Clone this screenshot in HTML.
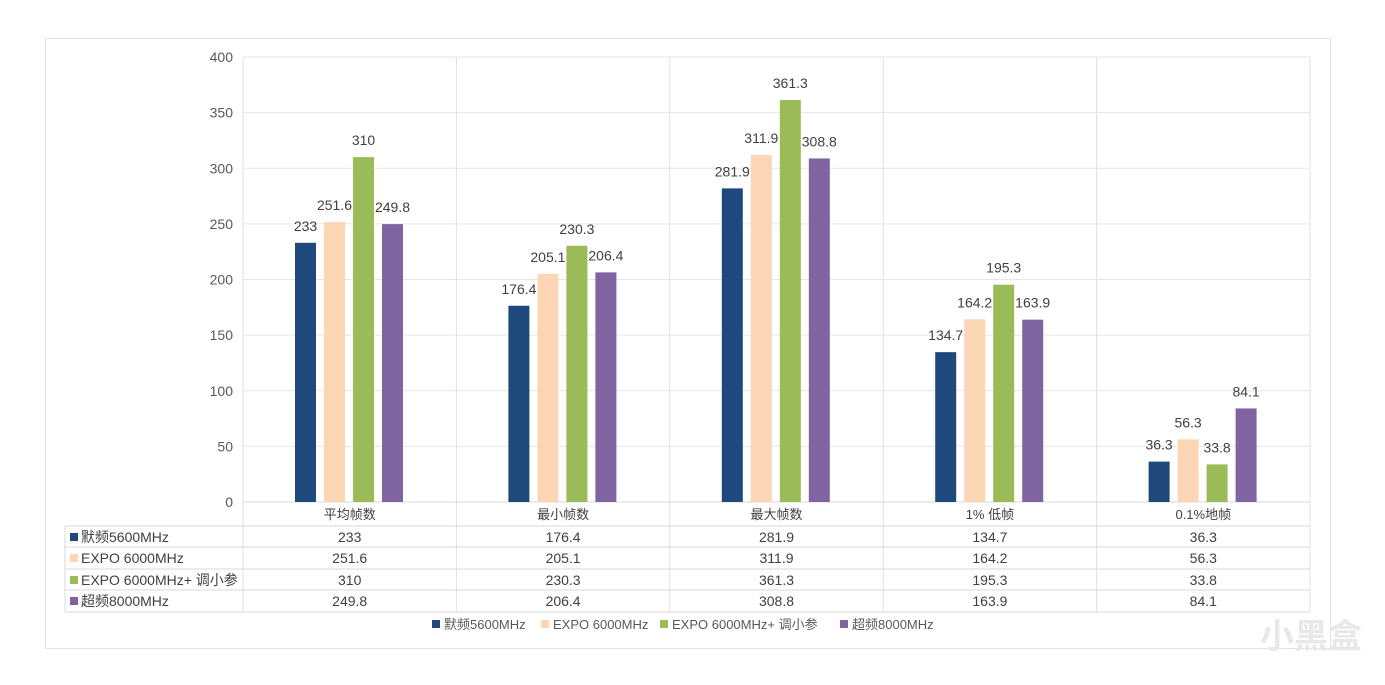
<!DOCTYPE html>
<html><head><meta charset="utf-8"><style>
body{margin:0;background:#fff;}
svg{display:block;font-family:"Liberation Sans","Noto Sans CJK SC",sans-serif;}
</style></head><body>
<svg id="s" width="1385" height="685" xmlns="http://www.w3.org/2000/svg"></svg>
<script>
const s=document.getElementById('s');let h='';
h+='<rect x="45.5" y="38.5" width="1285" height="610" fill="#fff" stroke="#e3e3e3"/>';
const L=243,R=1310,B=502,k=445/400,cw=(R-L)/5;
for(let v=0;v<=400;v+=50){const y=B-v*k;h+=`<line x1="${L}" x2="${R}" y1="${y}" y2="${y}" stroke="#e6e6e6"/>`;
h+=`<text x="233" y="${y+5}" text-anchor="end" font-size="14" fill="#595959">${v}</text>`;}
for(let i=0;i<=5;i++){const x=L+cw*i;h+=`<line x1="${x}" x2="${x}" y1="57" y2="612" stroke="#e0e0e0"/>`;}
h+=`<line x1="65" x2="65" y1="526" y2="612" stroke="#d9d9d9"/>`;
[502,526,547,569,590,612].forEach((y,j)=>{h+=`<line x1="${j==0?L:65}" x2="${R}" y1="${y}" y2="${y}" stroke="#d9d9d9"/>`;});
const cats=['平均帧数','最小帧数','最大帧数','1% 低帧','0.1%地帧'];
const ser=[['默频5600MHz','#1F497D',[233,176.4,281.9,134.7,36.3]],['EXPO 6000MHz','#FCD5B5',[251.6,205.1,311.9,164.2,56.3]],['EXPO 6000MHz+ 调小参','#9BBB59',[310,230.3,361.3,195.3,33.8]],['超频8000MHz','#8064A2',[249.8,206.4,308.8,163.9,84.1]]];
const rows=[537,558,580,601];
cats.forEach((c,i)=>{const x0=L+cw*i;h+=`<text x="${x0+cw/2}" y="519" text-anchor="middle" font-size="13" fill="#404040">${c}</text>`;
ser.forEach((sr,j)=>{const v=sr[2][i],bx=x0+52+29*j,y=B-v*k;
h+=`<rect x="${bx}" y="${y}" width="21" height="${B-y}" fill="${sr[1]}"/>`;
h+=`<text x="${bx+10.5}" y="${y-12}" text-anchor="middle" font-size="14" fill="#404040">${v}</text>`;
h+=`<text x="${x0+cw/2}" y="${rows[j]+5}" text-anchor="middle" font-size="14" fill="#404040">${v}</text>`;});});
ser.forEach((sr,j)=>{h+=`<rect x="70" y="${rows[j]-4}" width="8" height="8" fill="${sr[1]}"/><text x="81" y="${rows[j]+5}" font-size="14" fill="#404040">${sr[0]}</text>`;});
let lx=[432,541,660,840];
ser.forEach((sr,j)=>{h+=`<rect x="${lx[j]}" y="620" width="8" height="8" fill="${sr[1]}"/><text x="${lx[j]+12}" y="629" font-size="13" fill="#595959">${sr[0]}</text>`;});
h+=`<text x="1260" y="648" font-size="34" fill="#e8e8e8" font-weight="bold">小黑盒</text>`;
s.innerHTML=h;
</script>
</body></html>
